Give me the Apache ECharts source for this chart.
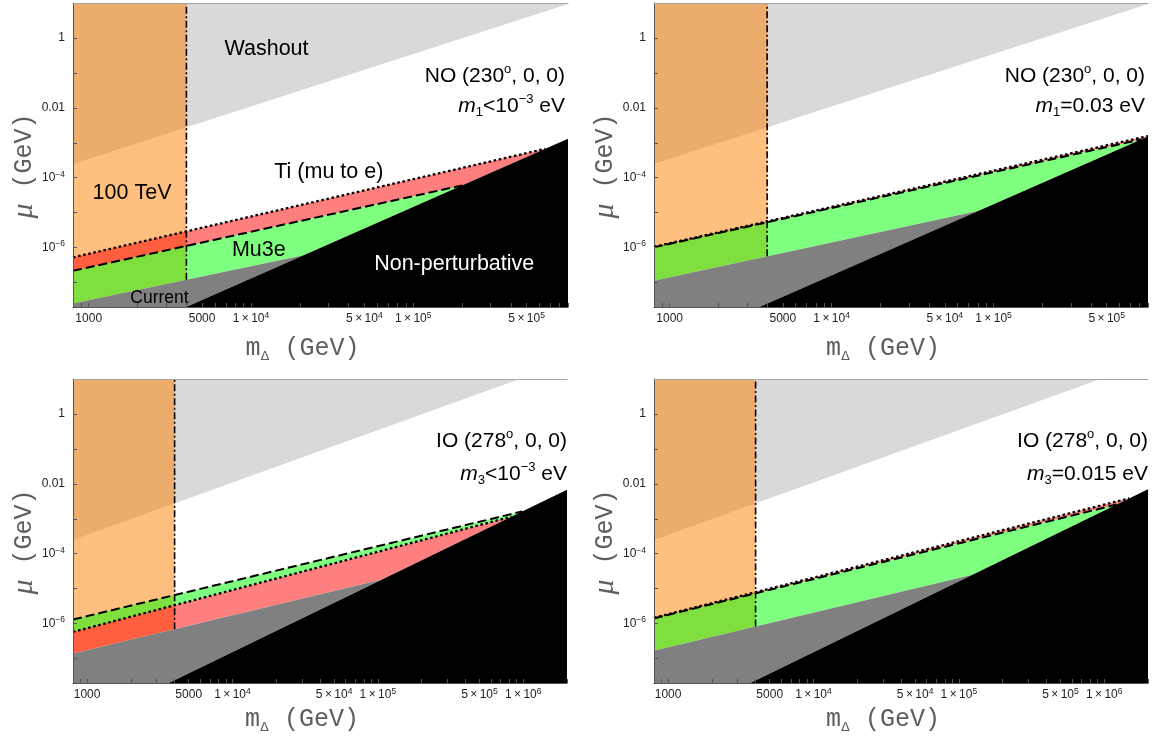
<!DOCTYPE html>
<html><head><meta charset="utf-8">
<script src="https://cdn.jsdelivr.net/npm/echarts@6/dist/echarts.min.js"></script>
<style>html,body{margin:0;padding:0;background:#fff}#c{width:1169px;height:738px}</style>
</head><body><div id="c"></div>
<script>
// ---------------- data (GeV units) ----------------
const xRangeTop = [800, 9e5];
const xRangeBottom = [800, 2e6];
const yRange = [2e-8, 10];
const colliderBound = 4000;                 // 100 TeV collider reach

const xTickValues = [1000, 5000, 1e4, 5e4, 1e5, 5e5, 1e6];
const xTickLabels = ['1000', '5000', '1\u2009×\u200910^{4}', '5\u2009×\u200910^{4}', '1\u2009×\u200910^{5}', '5\u2009×\u200910^{5}', '1\u2009×\u200910^{6}'];
const yTickValues = [1, 0.01, 1e-4, 1e-6];
const yTickLabels = ['1', '0.01', '10^{\u22124}', '10^{\u22126}'];
const yTickMarks = [1e-7, 1e-6, 1e-5, 1e-4, 1e-3, 1e-2, 1e-1, 1];

// panels: 0 = NO m1<1e-3, 1 = NO m1=0.03, 2 = IO m3<1e-3, 3 = IO m3=0.015
const washoutLine = [[800, 2.47e-4], [9.44e5, 10]];
const currentLine = [
  [[800, 2.53e-8], [2.0e4, 5.74e-7]],
  [[800, 1.13e-7], [8.47e4, 1.19e-5]],
  [[800, 1.39e-7], [1e5, 1.71e-5]],
  [[800, 1.68e-7], [1.14e5, 2.30e-5]]
];
const mu3eLine = [
  [[800, 2.17e-7], [1.77e5, 5.31e-5]],
  [[800, 1.02e-6], [3.77e5, 5.62e-4]],
  [[800, 1.31e-6], [7.76e5, 1.28e-3]],
  [[800, 1.42e-6], [1e6, 2.09e-3]]
];
const tiLine = [
  [[800, 5.25e-7], [6.05e5, 6.21e-4]],
  [[800, 1.06e-6], [3.77e5, 6.31e-4]],
  [[800, 5.79e-7], [6.12e5, 8.24e-4]],
  [[800, 1.48e-6], [1.49e6, 3.85e-3]]
];
const nonPertLine = [
  [[4018, 2.03e-8], [8.85e5, 1.256e-3]],
  [[3622, 2.04e-8], [3.77e5, 2.58e-4]],
  [[3648, 2e-8], [2e6, 6.78e-3]],
  [[3681, 2e-8], [2e6, 7.0e-3]]
];

const titleLine1 = ['NO (230^{o}, 0, 0)', 'NO (230^{o}, 0, 0)', 'IO (278^{o}, 0, 0)', 'IO (278^{o}, 0, 0)'];
const titleLine2 = ['*{m}_{1}<10^{\u22123} eV', '*{m}_{1}=0.03 eV', '*{m}_{3}<10^{\u22123} eV', '*{m}_{3}=0.015 eV'];

const regionLabelText = ['Washout', '100 TeV', 'Ti (mu to e)', 'Mu3e', 'Current', 'Non-perturbative'];
const regionLabelPos = [[12470, 0.482], [1849, 3.65e-5], [30200, 1.456e-4], [11180, 8.53e-7], [2730, 3.47e-8], [1.79e5, 3.39e-7]];
const regionLabelColor = ['#000', '#000', '#000', '#000', '#000', '#fff'];
const regionLabelSize = [21.5, 21.5, 21.5, 21.5, 17.5, 21.5];

// ---------------- styling ----------------
const F = 'Liberation Sans, Arial, sans-serif';
const MONO = 'Liberation Mono, Courier New, monospace';
const C = {
  washout: '#d9d9d9', orange: 'rgba(255,128,0,0.5)', green: 'rgba(0,255,0,0.5)',
  red: 'rgba(255,0,0,0.5)', gray: '#808080', black: '#000000', axis: '#555555'
};
const grids = [
  { left: 73, top: 3, width: 495, height: 304 },
  { left: 654, top: 3, width: 494, height: 304 },
  { left: 73, top: 379, width: 494, height: 304 },
  { left: 654, top: 379, width: 494, height: 304 }
];
const xNameGap = [26, 26, 21, 21];
const titleRight = [604, 24, 602, 21];
const titleTop1 = [63, 63, 428, 428];
const titleTop2 = [93, 93, 461, 461];

const L10 = Math.log10;
function markup(str) {
  const re = /([\^_*])\{([^}]*)\}/g;
  const tag = { '^': 's', '_': 'd', '*': 'i' };
  let out = '', last = 0, m;
  while ((m = re.exec(str))) {
    if (m.index > last) out += '{n|' + str.slice(last, m.index) + '}';
    out += '{' + tag[m[1]] + '|' + m[2] + '}';
    last = re.lastIndex;
  }
  if (last < str.length) out += '{n|' + str.slice(last) + '}';
  return out;
}
const tickRich = {
  n: { fontSize: 12, fontFamily: F, color: '#222', lineHeight: 16 },
  s: { fontSize: 8.5, fontFamily: F, color: '#222', lineHeight: 9, verticalAlign: 'top' }
};
const titleRich = {
  n: { fontSize: 21, fontFamily: F, color: '#000', lineHeight: 26 },
  i: { fontSize: 21, fontFamily: F, color: '#000', lineHeight: 26, fontStyle: 'italic' },
  s: { fontSize: 13, fontFamily: F, color: '#000', lineHeight: 12, verticalAlign: 'top' },
  d: { fontSize: 13, fontFamily: F, color: '#000', lineHeight: 12, verticalAlign: 'bottom' }
};
const xNameRich = {
  m: { fontFamily: MONO, fontSize: 25, color: '#5e5e5e', lineHeight: 30 },
  d: { fontFamily: 'DejaVu Sans', fontSize: 13, color: '#5e5e5e', lineHeight: 13, verticalAlign: 'bottom' },
  g: { fontFamily: MONO, fontSize: 25, color: '#5e5e5e', lineHeight: 30 }
};
const yNameRich = {
  u: { fontFamily: 'Liberation Serif, serif', fontStyle: 'italic', fontSize: 30, color: '#5e5e5e', lineHeight: 30 },
  g: { fontFamily: MONO, fontSize: 25, color: '#5e5e5e', lineHeight: 30 }
};

// minor x ticks n*10^k
const xMinorTicks = [];
for (let e = 2; e <= 6; e++) for (let n = 1; n <= 9; n++) xMinorTicks.push(n * Math.pow(10, e));

// ---------------- geometry helpers (log space) ----------------
function logPts(pts) { return pts.map(p => [L10(p[0]), L10(p[1])]); }
function lineOf(seg) {
  const [a, b] = logPts(seg);
  const k = (b[1] - a[1]) / (b[0] - a[0]);
  return { y: x => a[1] + k * (x - a[0]) };
}
const above = ln => p => p[1] - ln.y(p[0]);
const below = ln => p => ln.y(p[0]) - p[1];
const leftOf = x0 => p => x0 - p[0];
function clipPoly(poly, f) {
  const out = [];
  for (let j = 0; j < poly.length; j++) {
    const p = poly[j], q = poly[(j + 1) % poly.length];
    const fp = f(p), fq = f(q);
    if (fp >= 0) out.push(p);
    if ((fp >= 0) !== (fq >= 0)) {
      const t = fp / (fp - fq);
      out.push([p[0] + t * (q[0] - p[0]), p[1] + t * (q[1] - p[1])]);
    }
  }
  return out;
}
function clipSeg(seg, f) {
  if (seg.length < 2) return [];
  const fa = f(seg[0]), fb = f(seg[1]);
  if (fa < 0 && fb < 0) return [];
  if (fa >= 0 && fb >= 0) return seg;
  const t = fa / (fa - fb);
  const q = [seg[0][0] + t * (seg[1][0] - seg[0][0]), seg[0][1] + t * (seg[1][1] - seg[0][1])];
  return fa >= 0 ? [seg[0], q] : [q, seg[1]];
}

// ---------------- build ----------------
const xAxes = [], yAxes = [], series = [], titles = [];
const xTickLog = xTickValues.map(L10), yTickLog = yTickValues.map(L10);

for (let i = 0; i < 4; i++) {
  const xr = i < 2 ? xRangeTop : xRangeBottom;
  const x0 = L10(xr[0]), x1 = L10(xr[1]), y0 = L10(yRange[0]), y1 = L10(yRange[1]);
  xAxes.push({
    gridIndex: i, type: 'value', position: 'bottom', min: x0, max: x1, z: 10,
    axisLine: { show: true, onZero: false, lineStyle: { color: C.axis, width: 1 } },
    axisTick: { show: true, inside: true, length: 4, customValues: xMinorTicks.map(L10), lineStyle: { color: C.axis } },
    axisLabel: {
      show: true, margin: 4, customValues: xTickLog, rich: tickRich,
      formatter: v => { const k = xTickLog.findIndex(t => Math.abs(t - v) < 1e-6); return k < 0 ? '' : markup(xTickLabels[k]); }
    },
    splitLine: { show: false },
    name: '{m|m}{d|\u0394}{g| (GeV)}', nameLocation: 'middle', nameGap: xNameGap[i], nameMoveOverlap: false,
    nameTextStyle: { rich: xNameRich, padding: [0, 36, 0, 0] }
  });
  yAxes.push({
    gridIndex: i, type: 'value', position: 'left', min: y0, max: y1, z: 10,
    axisLine: { show: true, onZero: false, lineStyle: { color: C.axis, width: 1 } },
    axisTick: { show: true, inside: true, length: 4, customValues: yTickMarks.map(L10), lineStyle: { color: C.axis } },
    axisLabel: {
      show: true, margin: 8, customValues: yTickLog, rich: tickRich,
      formatter: v => { const k = yTickLog.findIndex(t => Math.abs(t - v) < 1e-6); return k < 0 ? '' : markup(yTickLabels[k]); }
    },
    splitLine: { show: false },
    name: '{u|\u03bc}{g| (GeV)}', nameLocation: 'middle', nameGap: 34, nameRotate: 90, nameMoveOverlap: false,
    nameTextStyle: { rich: yNameRich, padding: [0, 22, 0, 0] }
  });

  const rect = [[x0, y0], [x1, y0], [x1, y1], [x0, y1]];
  const reg = fs => fs.reduce((poly, f) => clipPoly(poly, f), rect);
  const wo = lineOf(washoutLine), cur = lineOf(currentLine[i]), mu = lineOf(mu3eLine[i]),
        ti = lineOf(tiLine[i]), np = lineOf(nonPertLine[i]);
  const xc = L10(colliderBound);
  const fill = (poly, color, z) => {
    if (poly.length < 3) return;
    series.push({
      type: 'custom', xAxisIndex: i, yAxisIndex: i, z, silent: true, clip: true, animation: false,
      data: [poly[0]],
      renderItem: (p, api) => ({ type: 'polygon', shape: { points: poly.map(q => api.coord(q)) }, style: { fill: color } })
    });
  };
  fill(reg([above(wo)]), C.washout, 1);
  fill(reg([leftOf(xc), above(cur)]), C.orange, 2);
  const exps = [{ ln: mu, color: C.green }, { ln: ti, color: C.red }].sort((a, b) => a.ln.y(x0) - b.ln.y(x0));
  fill(reg([above(cur), below(exps[0].ln), above(np)]), exps[0].color, 3);
  fill(reg([above(exps[0].ln), below(exps[1].ln), above(np)]), exps[1].color, 3);
  fill(reg([below(cur), above(np)]), C.gray, 4);
  fill(reg([below(np)]), C.black, 5);

  const segOf = ln => clipSeg([[x0, ln.y(x0)], [x1, ln.y(x1)]], above(np));
  const addLine = (data, ls) => {
    if (data.length < 2) return;
    series.push({ type: 'line', xAxisIndex: i, yAxisIndex: i, z: 6, data, symbol: 'none', silent: true, animation: false, lineStyle: ls });
  };
  addLine(segOf(mu), { color: '#000', width: 2, type: [9, 4] });
  addLine(segOf(ti), { color: '#000', width: 2.3, type: [2.6, 2.6] });
  addLine([[xc, cur.y(xc)], [xc, y1]], { color: '#000', width: 1.6, type: [7, 2.5, 2, 2.5] });

  titles.push({ text: markup(titleLine1[i]), right: titleRight[i], top: titleTop1[i], padding: 0,
    textStyle: { fontWeight: 'normal', fontSize: 21, fontFamily: F, color: '#000', rich: titleRich } });
  titles.push({ text: markup(titleLine2[i]), right: titleRight[i], top: titleTop2[i], padding: 0,
    textStyle: { fontWeight: 'normal', fontSize: 21, fontFamily: F, color: '#000', rich: titleRich } });
}
// frame top lines
for (let i = 0; i < 4; i++) {
  const xr = i < 2 ? xRangeTop : xRangeBottom;
  xAxes.push({
    gridIndex: i, type: 'value', position: 'top', min: L10(xr[0]), max: L10(xr[1]), z: 10,
    axisLine: { show: true, onZero: false, lineStyle: { color: '#a8a8a8', width: 1 } },
    axisTick: { show: false }, axisLabel: { show: false }, splitLine: { show: false }
  });
}
// region annotations (first panel)
series.push({
  type: 'scatter', xAxisIndex: 0, yAxisIndex: 0, z: 7, silent: true, animation: false,
  symbolSize: 1, itemStyle: { color: 'rgba(0,0,0,0)', opacity: 1 },
  data: regionLabelText.map((t, k) => ({
    name: t, value: [L10(regionLabelPos[k][0]), L10(regionLabelPos[k][1])],
    label: { show: true, position: 'inside', formatter: '{b}', fontSize: regionLabelSize[k], fontFamily: F,
             color: regionLabelColor[k], opacity: 1, textBorderWidth: 0 }
  }))
});

const chart = echarts.init(document.getElementById('c'), null, { renderer: 'canvas' });
chart.setOption({
  animation: false,
  backgroundColor: '#fff',
  title: titles,
  grid: grids.map(g => Object.assign({ containLabel: false, outerBoundsMode: 'none' }, g)),
  xAxis: xAxes,
  yAxis: yAxes,
  series
});
</script>
</body></html>
